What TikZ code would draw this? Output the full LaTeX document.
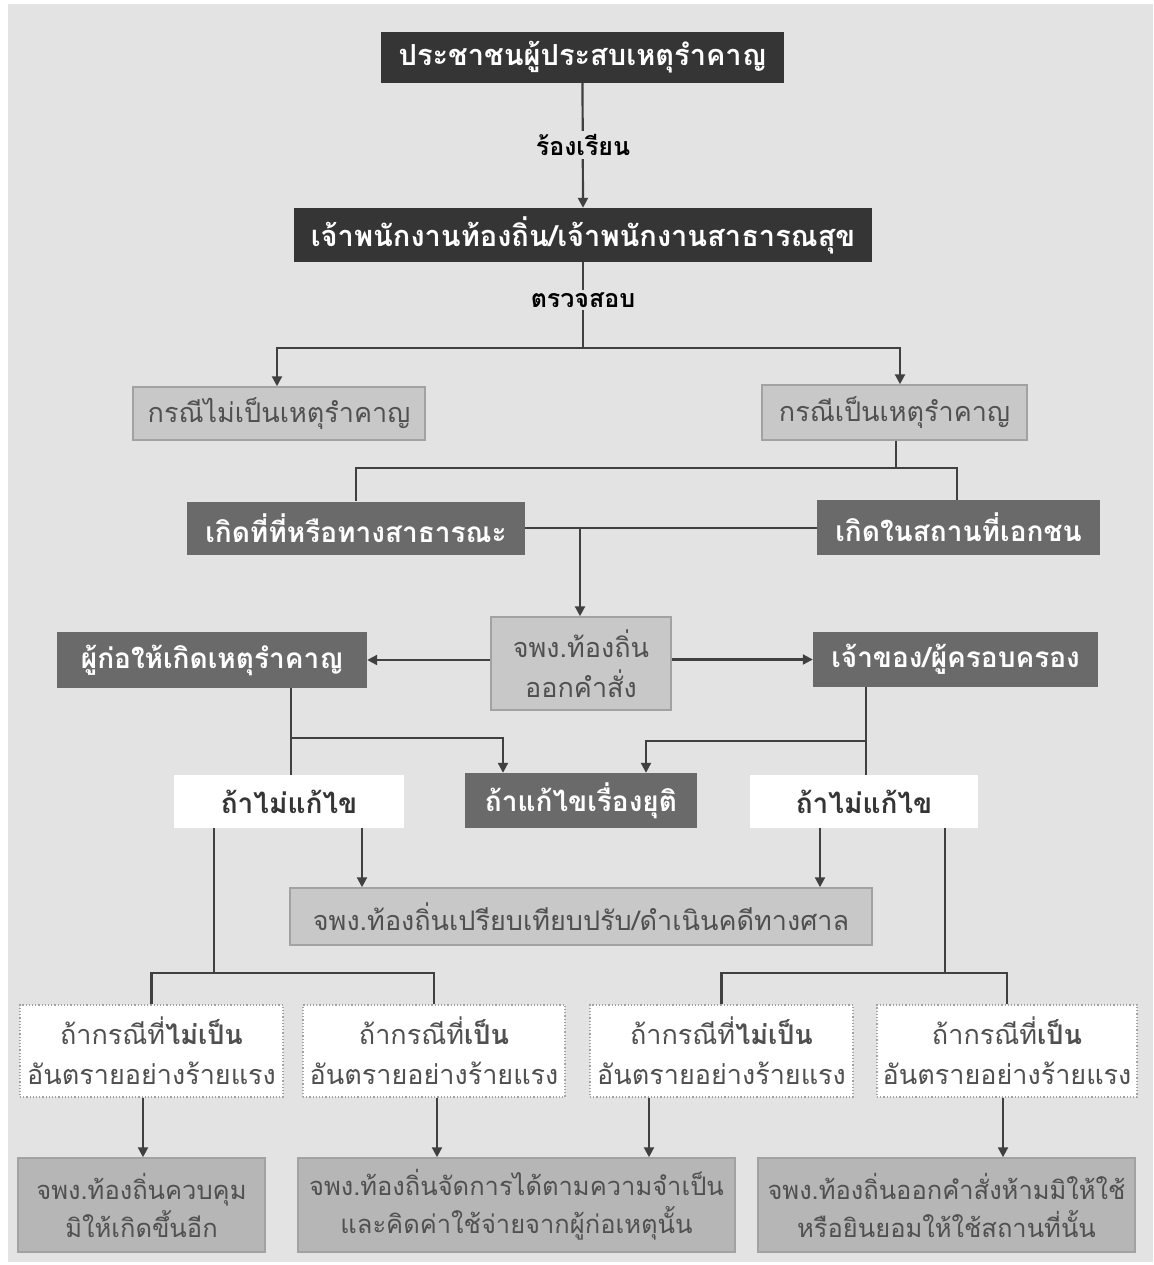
\documentclass[tikz,border=0pt]{standalone}
\usepackage{fontspec}
\usetikzlibrary{arrows.meta}
\newfontfamily\thai[Script=Thai]{Loma}
\definecolor{bgc}{HTML}{E3E3E3}
\definecolor{darkc}{HTML}{353535}
\definecolor{midc}{HTML}{6A6A6A}
\definecolor{lightc}{HTML}{C8C8C8}
\definecolor{lightd}{HTML}{A2A2A2}
\definecolor{botc}{HTML}{B6B6B6}
\definecolor{linec}{HTML}{404040}
\definecolor{txtg}{HTML}{505050}
\tikzset{
  base/.style={inner sep=0pt, align=center, font=\thai\fontsize{27}{40}\selectfont},
  darkbox/.style={base, fill=darkc, text=white, font=\thai\bfseries\fontsize{29}{32}\selectfont},
  midbox/.style={base, fill=midc, text=white, font=\thai\bfseries\fontsize{28}{32}\selectfont},
  lightbox/.style={base, fill=lightc, draw=lightd, line width=1.5, text=txtg},
  whitebox/.style={base, fill=white, text=darkc, font=\thai\bfseries\fontsize{28}{32}\selectfont},
  dotbox/.style={base, fill=white, draw=lightd, dotted, line width=1.2, text=txtg, font=\thai\fontsize{27}{40}\selectfont},
  botbox/.style={base, fill=botc, draw=lightd, line width=1.5, text=txtg, font=\thai\fontsize{25.5}{38}\selectfont},
  lbl/.style={inner sep=3pt, fill=bgc, text=black, font=\thai\bfseries\fontsize{25}{28}\selectfont},
  conn/.style={draw=linec, line width=2.2},
  arr/.style={conn, -{Triangle[length=10pt,width=10pt]}},
}
\begin{document}
\begin{tikzpicture}[x=1pt,y=-1pt]
\fill[white] (0,0) rectangle (1153,1265);
\fill[bgc] (8,4) rectangle (1153,1262);
\useasboundingbox (0,0) rectangle (1153,1265);

% nodes
\node[darkbox, minimum width=403, minimum height=51] (t1) at (582.5,57.5) {ประชาชนผู้ประสบเหตุรำคาญ};
\node[darkbox, minimum width=578, minimum height=54] (t2) at (583,235) {เจ้าพนักงานท้องถิ่น/เจ้าพนักงานสาธารณสุข};
\node[lightbox, minimum width=292, minimum height=53] (no) at (279,413.5) {กรณีไม่เป็นเหตุรำคาญ};
\node[lightbox, minimum width=265, minimum height=55] (yes) at (894.5,412.5) {กรณีเป็นเหตุรำคาญ};
\node[midbox, minimum width=338, minimum height=53] (pub) at (356,528) {เกิดที่ที่หรือทางสาธารณะ};
\node[midbox, minimum width=283, minimum height=55] (prv) at (958.5,527.5) {เกิดในสถานที่เอกชน};
\node[lightbox, minimum width=180, minimum height=93] (ord) at (581,663.5) {จพง.ท้องถิ่น\\ออกคำสั่ง};
\node[midbox, minimum width=310, minimum height=56] (cause) at (212,660) {ผู้ก่อให้เกิดเหตุรำคาญ};
\node[midbox, minimum width=285, minimum height=55] (own) at (955.5,659.5) {เจ้าของ/ผู้ครอบครอง};
\node[midbox, minimum width=232, minimum height=55] (fix) at (581,800.5) {ถ้าแก้ไขเรื่องยุติ};
\node[whitebox, minimum width=230, minimum height=53] (nfl) at (289,801.5) {ถ้าไม่แก้ไข};
\node[whitebox, minimum width=228, minimum height=53] (nfr) at (864,801.5) {ถ้าไม่แก้ไข};
\node[lightbox, minimum width=582, minimum height=57] (fine) at (581,916.5) {จพง.ท้องถิ่นเปรียบเทียบปรับ/ดำเนินคดีทางศาล};
\node[dotbox, minimum width=263, minimum height=92] (da) at (151.5,1051) {ถ้ากรณีที่\textbf{ไม่เป็น}\\อันตรายอย่างร้ายแรง};
\node[dotbox, minimum width=262, minimum height=92] (db) at (434,1051) {ถ้ากรณีที่\textbf{เป็น}\\อันตรายอย่างร้ายแรง};
\node[dotbox, minimum width=263, minimum height=92] (dc) at (721.5,1051) {ถ้ากรณีที่\textbf{ไม่เป็น}\\อันตรายอย่างร้ายแรง};
\node[dotbox, minimum width=260, minimum height=92] (dd) at (1007,1051) {ถ้ากรณีที่\textbf{เป็น}\\อันตรายอย่างร้ายแรง};
\node[botbox, minimum width=247, minimum height=94] (r1) at (141.5,1205) {จพง.ท้องถิ่นควบคุม\\มิให้เกิดขึ้นอีก};
\node[botbox, minimum width=437, minimum height=94] (r2) at (516.5,1205) {จพง.ท้องถิ่นจัดการได้ตามความจำเป็น\\และคิดค่าใช้จ่ายจากผู้ก่อเหตุนั้น};
\node[botbox, minimum width=377, minimum height=94] (r3) at (946.5,1205) {จพง.ท้องถิ่นออกคำสั่งห้ามมิให้ใช้\\หรือยินยอมให้ใช้สถานที่นั้น};

% connectors
\coordinate (j1) at (583,348);
\draw[arr] (t1.south) -- (t2.north);
\node[lbl] (l1) at (583,145) {ร้องเรียน};
\draw[conn] (t2.south) -- (j1);
\node[lbl] (l2) at (583,300) {ตรวจสอบ};
\draw[arr] (j1) -| (no.north -| 277,0);
\draw[arr] (j1) -| (yes.north -| 900,0);

\coordinate (j2) at (896,468);
\draw[conn] (yes.south -| j2) -- (j2);
\draw[conn] (j2) -| (pub.north);
\draw[conn] (j2) -| (prv.north -| 957,0);

\draw[conn] (pub.east) -- (prv.west |- pub.east);
\draw[arr] (580,528) -- (ord.north -| 580,0);
\draw[arr] (ord.west |- cause.east) -- (cause.east);
\draw[arr] (ord.east |- own.west) -- (own.west);

\coordinate (j3) at (291,738);
\draw[conn] (cause.south -| j3) -- (nfl.north -| j3);
\draw[arr] (j3) -| (fix.north -| 503,0);
\coordinate (j4) at (866,741);
\draw[conn] (own.south -| j4) -- (nfr.north -| j4);
\draw[arr] (j4) -| (fix.north -| 646,0);

\draw[arr] (nfl.south -| 362,0) -- (fine.north -| 362,0);
\draw[arr] (nfr.south -| 820,0) -- (fine.north -| 820,0);

\coordinate (j5) at (214,973);
\coordinate (j6) at (945,973);
\draw[conn] (nfl.south -| j5) -- (j5);
\draw[conn] (nfr.south -| j6) -- (j6);
\draw[conn] (da.north) |- (j5) -| (db.north);
\draw[conn] (dc.north) |- (j6) -| (dd.north);

\draw[arr] (da.south -| 143,0) -- (r1.north -| 143,0);
\draw[arr] (db.south -| 437,0) -- (r2.north -| 437,0);
\draw[arr] (dc.south -| 649,0) -- (r2.north -| 649,0);
\draw[arr] (dd.south -| 1003,0) -- (r3.north -| 1003,0);
\end{tikzpicture}
\end{document}
